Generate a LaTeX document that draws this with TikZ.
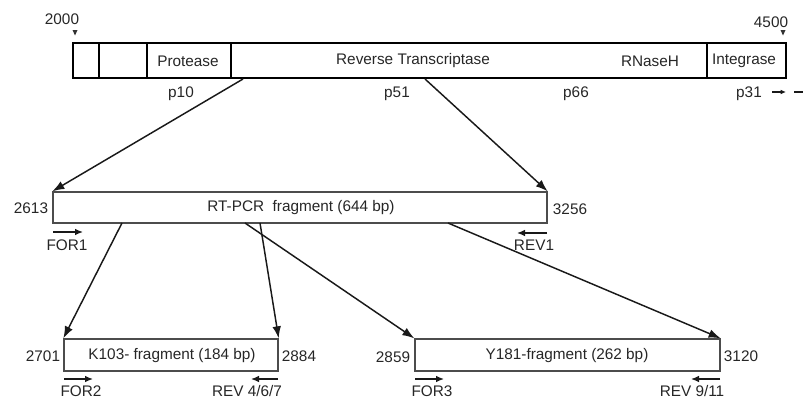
\documentclass[tikz,border=0pt]{standalone}
\usepackage{fontspec}
\setmainfont{Liberation Sans}
\usetikzlibrary{fit,arrows.meta}
\begin{document}
\begin{tikzpicture}[x=0.75pt,y=-0.75pt,
  every node/.style={font=\fontsize{11.5}{13}\selectfont, text=black!85, inner sep=0pt},
  barbox/.style={draw=black, line width=2.2pt, inner sep=0pt},
  divider/.style={draw=black, line width=2.2pt},
  fragbox/.style={draw=black!70, line width=1pt, inner sep=0pt},
  conn/.style={draw=black!90, line width=1.1pt, -{Latex[length=9pt,width=6.5pt]}},
  primer/.style={draw=black!90, line width=1pt, -{Latex[length=6pt,width=5pt]}},
  tick/.style={fill=black!80}]
\useasboundingbox (0,0) rectangle (803,400);
% top bar
\path (73,43) coordinate (b1) (786,78) coordinate (b2);
\node[barbox, fit=(b1)(b2)] (bar) {};
\draw[divider] (99,43) -- (99,78);
\draw[divider] (147,43) -- (147,78);
\draw[divider] (231,43) -- (231,78);
\draw[divider] (707,43) -- (707,78);
\node (prot) at (188,61) {Protease};
\node (rtase) at (413,61) {Reverse Transcriptase};
\node (rnase) at (650,61) {RNaseH};
\node (integ) at (744,61) {Integrase};
\node (n2000) at (62,19) {2000};
\fill[tick] (72.5,30) -- (77.5,30) -- (75,35.5) -- cycle;
\node (n4500) at (771,22) {4500};
\fill[tick] (780.5,30) -- (785.5,30) -- (783,35.5) -- cycle;
\node (p10) at (181,94) {p10};
\node (p51) at (397,94) {p51};
\node (p66) at (576,94) {p66};
\node (p31) at (749,94) {p31};
\coordinate (pa1) at (772,92);
\coordinate (pa2) at (786,92);
\coordinate (pb1) at (794,92);
\coordinate (pb2) at (803,92);
\draw[draw=black!90, line width=0.8pt, -{Latex[length=4pt,width=3.5pt]}] (pa1) -- (pa2);
\draw[draw=black!90, line width=0.8pt] (pb1) -- (pb2);
% RT-PCR fragment
\path (53,192) coordinate (r1) (547,223) coordinate (r2);
\node[fragbox, fit=(r1)(r2)] (rt) {};
\node (rttxt) at (301,208) {RT-PCR\ \ fragment (644 bp)};
\node (n2613) at (31,208) {2613};
\node (n3256) at (570,209) {3256};
\coordinate (s1) at (243,79);
\coordinate (s2) at (425,79);
\draw[conn] (s1) -- (rt.north west);
\draw[conn] (s2) -- (rt.north east);
\coordinate (f1a) at (53,232); \coordinate (f1b) at (83,232);
\draw[primer] (f1a) -- (f1b);
\node (for1) at (67,245) {FOR1};
\coordinate (r1a) at (547,233); \coordinate (r1b) at (517,233);
\draw[primer] (r1a) -- (r1b);
\node (rev1) at (534,245) {REV1};
% K103 fragment
\path (64,339) coordinate (k1) (278,371) coordinate (k2);
\node[fragbox, fit=(k1)(k2)] (k103) {};
\node (ktxt) at (172,356) {K103- fragment (184 bp)};
\node (n2701) at (43,356) {2701};
\node (n2884) at (299,356) {2884};
\coordinate (f2a) at (64,379); \coordinate (f2b) at (93,379);
\draw[primer] (f2a) -- (f2b);
\node (for2) at (81,391) {FOR2};
\coordinate (r2a) at (278,379); \coordinate (r2b) at (251,379);
\draw[primer] (r2a) -- (r2b);
\node (rev2) at (247,391) {REV 4/6/7};
% Y181 fragment
\path (415,339) coordinate (y1) (720,371) coordinate (y2);
\node[fragbox, fit=(y1)(y2)] (y181) {};
\node (ytxt) at (567,356) {Y181-fragment (262 bp)};
\node (n2859) at (393,357) {2859};
\node (n3120) at (741,356) {3120};
\coordinate (f3a) at (415,379); \coordinate (f3b) at (444,379);
\draw[primer] (f3a) -- (f3b);
\node (for3) at (432,391) {FOR3};
\coordinate (r3a) at (720,379); \coordinate (r3b) at (691,379);
\draw[primer] (r3a) -- (r3b);
\node (rev3) at (692,391) {REV 9/11};
% second level connectors
\coordinate (t1) at (122,223);
\coordinate (t2) at (260,223);
\coordinate (t3) at (245,223);
\coordinate (t4) at (448,223);
\draw[conn] (t1) -- (k103.north west);
\draw[conn] (t2) -- (k103.north east);
\draw[conn] (t3) -- (y181.north west);
\draw[conn] (t4) -- (y181.north east);
\end{tikzpicture}
\end{document}
